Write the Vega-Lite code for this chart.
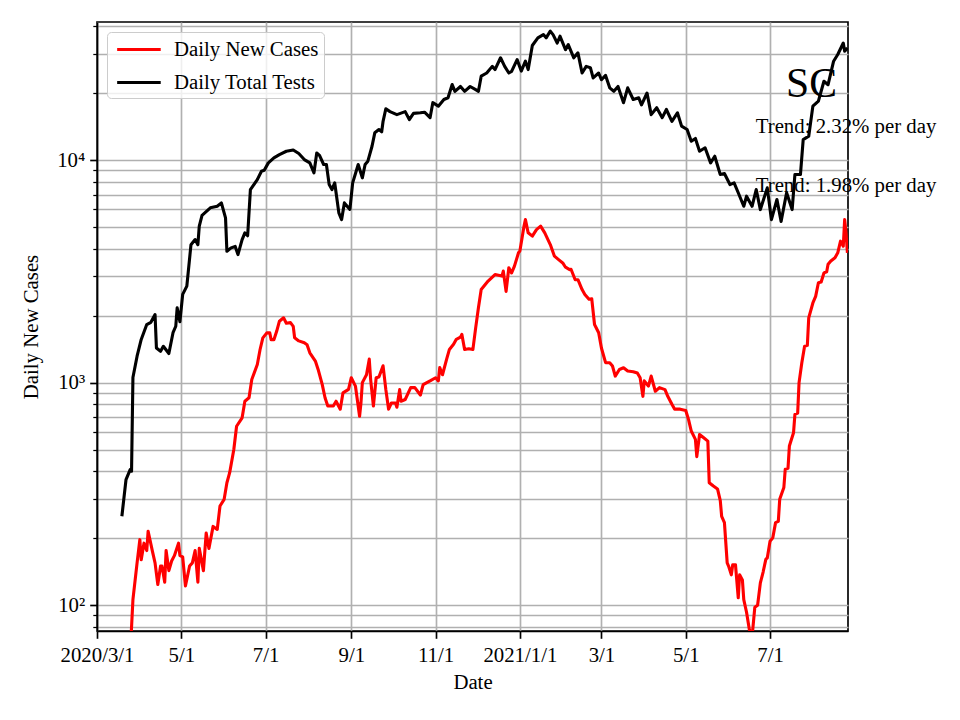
{
  "$schema": "https://vega.github.io/schema/vega-lite/v6.json",
  "width": 751,
  "height": 609,
  "autosize": {"type": "none"},
  "padding": {"left": 97, "top": 22, "right": 112, "bottom": 89},
  "background": "white",
  "config": {
    "font": "Liberation Serif",
    "view": {"stroke": "black", "strokeWidth": 1.67},
    "axis": {
      "labelFont": "Liberation Serif",
      "labelFontSize": 20.8,
      "labelColor": "black",
      "titleFont": "Liberation Serif",
      "titleFontSize": 20.8,
      "titleFontWeight": "normal",
      "titleColor": "black",
      "tickColor": "black",
      "domainColor": "black",
      "domainWidth": 1.67,
      "gridColor": "#b0b0b0",
      "gridWidth": 1.67,
      "tickWidth": 1.67,
      "tickSize": 7.3,
      "labelPadding": 5
    }
  },
  "datasets": {
    "sc": [{"date": "2021-07-31", "value": 19290, "label": "SC"}],
    "trend": [
      {"date": "2021-08-25", "value": 13290, "label": "Trend: 2.32% per day"},
      {"date": "2021-08-25", "value": 7220, "label": "Trend: 1.98% per day"}
    ],
    "cases": [
      {"date": "2020-03-25", "value": 60},
      {"date": "2020-03-27", "value": 106},
      {"date": "2020-03-30", "value": 155},
      {"date": "2020-04-01", "value": 197},
      {"date": "2020-04-02", "value": 160},
      {"date": "2020-04-04", "value": 190},
      {"date": "2020-04-06", "value": 176},
      {"date": "2020-04-07", "value": 215},
      {"date": "2020-04-10", "value": 176},
      {"date": "2020-04-12", "value": 155},
      {"date": "2020-04-14", "value": 124},
      {"date": "2020-04-16", "value": 150},
      {"date": "2020-04-17", "value": 150},
      {"date": "2020-04-19", "value": 127},
      {"date": "2020-04-20", "value": 176},
      {"date": "2020-04-22", "value": 143},
      {"date": "2020-04-24", "value": 158},
      {"date": "2020-04-26", "value": 167},
      {"date": "2020-04-29", "value": 190},
      {"date": "2020-04-30", "value": 167},
      {"date": "2020-05-02", "value": 165},
      {"date": "2020-05-04", "value": 122},
      {"date": "2020-05-07", "value": 150},
      {"date": "2020-05-09", "value": 155},
      {"date": "2020-05-11", "value": 176},
      {"date": "2020-05-13", "value": 127},
      {"date": "2020-05-14", "value": 180},
      {"date": "2020-05-17", "value": 143},
      {"date": "2020-05-19", "value": 211},
      {"date": "2020-05-21", "value": 180},
      {"date": "2020-05-24", "value": 226},
      {"date": "2020-05-27", "value": 219},
      {"date": "2020-05-29", "value": 279},
      {"date": "2020-06-01", "value": 299},
      {"date": "2020-06-03", "value": 355},
      {"date": "2020-06-05", "value": 394},
      {"date": "2020-06-08", "value": 501},
      {"date": "2020-06-10", "value": 637},
      {"date": "2020-06-14", "value": 695},
      {"date": "2020-06-16", "value": 825},
      {"date": "2020-06-19", "value": 855},
      {"date": "2020-06-21", "value": 1033},
      {"date": "2020-06-25", "value": 1206},
      {"date": "2020-06-27", "value": 1409},
      {"date": "2020-06-29", "value": 1589},
      {"date": "2020-07-02", "value": 1674},
      {"date": "2020-07-04", "value": 1674},
      {"date": "2020-07-05", "value": 1560},
      {"date": "2020-07-07", "value": 1560},
      {"date": "2020-07-09", "value": 1700},
      {"date": "2020-07-11", "value": 1888},
      {"date": "2020-07-14", "value": 1955},
      {"date": "2020-07-16", "value": 1850},
      {"date": "2020-07-19", "value": 1860},
      {"date": "2020-07-21", "value": 1790},
      {"date": "2020-07-22", "value": 1590},
      {"date": "2020-07-25", "value": 1540},
      {"date": "2020-07-29", "value": 1510},
      {"date": "2020-07-31", "value": 1480},
      {"date": "2020-08-02", "value": 1362},
      {"date": "2020-08-06", "value": 1250},
      {"date": "2020-08-08", "value": 1146},
      {"date": "2020-08-11", "value": 980},
      {"date": "2020-08-13", "value": 855},
      {"date": "2020-08-15", "value": 785},
      {"date": "2020-08-19", "value": 785},
      {"date": "2020-08-21", "value": 825},
      {"date": "2020-08-24", "value": 760},
      {"date": "2020-08-26", "value": 900},
      {"date": "2020-08-30", "value": 933},
      {"date": "2020-09-01", "value": 1052},
      {"date": "2020-09-04", "value": 965},
      {"date": "2020-09-07", "value": 706},
      {"date": "2020-09-08", "value": 810},
      {"date": "2020-09-09", "value": 1000},
      {"date": "2020-09-12", "value": 1085},
      {"date": "2020-09-14", "value": 1275},
      {"date": "2020-09-15", "value": 1035},
      {"date": "2020-09-17", "value": 785},
      {"date": "2020-09-19", "value": 1052},
      {"date": "2020-09-21", "value": 1060},
      {"date": "2020-09-24", "value": 1190},
      {"date": "2020-09-26", "value": 930},
      {"date": "2020-09-28", "value": 760},
      {"date": "2020-09-30", "value": 810},
      {"date": "2020-10-03", "value": 810},
      {"date": "2020-10-04", "value": 775},
      {"date": "2020-10-06", "value": 930},
      {"date": "2020-10-07", "value": 825},
      {"date": "2020-10-10", "value": 840},
      {"date": "2020-10-14", "value": 950},
      {"date": "2020-10-17", "value": 950},
      {"date": "2020-10-21", "value": 880},
      {"date": "2020-10-23", "value": 980},
      {"date": "2020-10-28", "value": 1018},
      {"date": "2020-11-01", "value": 1052},
      {"date": "2020-11-03", "value": 1018},
      {"date": "2020-11-04", "value": 1168},
      {"date": "2020-11-06", "value": 1085},
      {"date": "2020-11-09", "value": 1275},
      {"date": "2020-11-11", "value": 1410},
      {"date": "2020-11-14", "value": 1486},
      {"date": "2020-11-16", "value": 1565},
      {"date": "2020-11-19", "value": 1600},
      {"date": "2020-11-20", "value": 1647},
      {"date": "2020-11-22", "value": 1410},
      {"date": "2020-11-25", "value": 1420},
      {"date": "2020-11-28", "value": 1410},
      {"date": "2020-11-30", "value": 1762},
      {"date": "2020-12-02", "value": 2168},
      {"date": "2020-12-04", "value": 2620},
      {"date": "2020-12-09", "value": 2860},
      {"date": "2020-12-14", "value": 3060},
      {"date": "2020-12-19", "value": 3010},
      {"date": "2020-12-20", "value": 3170},
      {"date": "2020-12-22", "value": 2570},
      {"date": "2020-12-24", "value": 3280},
      {"date": "2020-12-26", "value": 3110},
      {"date": "2020-12-28", "value": 3330},
      {"date": "2020-12-31", "value": 3830},
      {"date": "2021-01-01", "value": 3900},
      {"date": "2021-01-04", "value": 5050},
      {"date": "2021-01-05", "value": 5400},
      {"date": "2021-01-07", "value": 4710},
      {"date": "2021-01-10", "value": 4550},
      {"date": "2021-01-13", "value": 4870},
      {"date": "2021-01-16", "value": 5050},
      {"date": "2021-01-19", "value": 4710},
      {"date": "2021-01-23", "value": 4170},
      {"date": "2021-01-26", "value": 3700},
      {"date": "2021-01-29", "value": 3570},
      {"date": "2021-02-01", "value": 3450},
      {"date": "2021-02-03", "value": 3300},
      {"date": "2021-02-06", "value": 3220},
      {"date": "2021-02-07", "value": 3230},
      {"date": "2021-02-10", "value": 2900},
      {"date": "2021-02-12", "value": 2900},
      {"date": "2021-02-15", "value": 2620},
      {"date": "2021-02-17", "value": 2490},
      {"date": "2021-02-20", "value": 2370},
      {"date": "2021-02-22", "value": 2380},
      {"date": "2021-02-24", "value": 1825},
      {"date": "2021-02-27", "value": 1676},
      {"date": "2021-03-01", "value": 1431},
      {"date": "2021-03-04", "value": 1229},
      {"date": "2021-03-07", "value": 1229},
      {"date": "2021-03-09", "value": 1188},
      {"date": "2021-03-11", "value": 1070},
      {"date": "2021-03-14", "value": 1146},
      {"date": "2021-03-17", "value": 1166},
      {"date": "2021-03-20", "value": 1127},
      {"date": "2021-03-24", "value": 1120},
      {"date": "2021-03-27", "value": 1105},
      {"date": "2021-03-29", "value": 1052},
      {"date": "2021-03-31", "value": 868},
      {"date": "2021-04-01", "value": 1018},
      {"date": "2021-04-04", "value": 965},
      {"date": "2021-04-06", "value": 1070},
      {"date": "2021-04-09", "value": 915},
      {"date": "2021-04-12", "value": 950},
      {"date": "2021-04-16", "value": 930},
      {"date": "2021-04-18", "value": 868},
      {"date": "2021-04-21", "value": 800},
      {"date": "2021-04-23", "value": 760},
      {"date": "2021-04-27", "value": 760},
      {"date": "2021-05-01", "value": 750},
      {"date": "2021-05-03", "value": 684},
      {"date": "2021-05-05", "value": 606},
      {"date": "2021-05-08", "value": 556},
      {"date": "2021-05-09", "value": 465},
      {"date": "2021-05-11", "value": 585},
      {"date": "2021-05-14", "value": 565},
      {"date": "2021-05-17", "value": 546},
      {"date": "2021-05-18", "value": 355},
      {"date": "2021-05-21", "value": 343},
      {"date": "2021-05-24", "value": 333},
      {"date": "2021-05-26", "value": 295},
      {"date": "2021-05-27", "value": 251},
      {"date": "2021-05-29", "value": 235},
      {"date": "2021-05-31", "value": 155},
      {"date": "2021-06-01", "value": 150},
      {"date": "2021-06-03", "value": 137},
      {"date": "2021-06-04", "value": 152},
      {"date": "2021-06-06", "value": 152},
      {"date": "2021-06-08", "value": 108},
      {"date": "2021-06-09", "value": 137},
      {"date": "2021-06-11", "value": 130},
      {"date": "2021-06-12", "value": 106},
      {"date": "2021-06-14", "value": 93},
      {"date": "2021-06-16", "value": 78},
      {"date": "2021-06-18", "value": 72},
      {"date": "2021-06-20", "value": 98},
      {"date": "2021-06-22", "value": 100},
      {"date": "2021-06-24", "value": 126},
      {"date": "2021-06-26", "value": 141},
      {"date": "2021-06-28", "value": 161},
      {"date": "2021-06-29", "value": 163},
      {"date": "2021-07-01", "value": 194},
      {"date": "2021-07-03", "value": 201},
      {"date": "2021-07-05", "value": 235},
      {"date": "2021-07-07", "value": 238},
      {"date": "2021-07-08", "value": 299},
      {"date": "2021-07-11", "value": 338},
      {"date": "2021-07-12", "value": 408},
      {"date": "2021-07-14", "value": 412},
      {"date": "2021-07-15", "value": 519},
      {"date": "2021-07-18", "value": 595},
      {"date": "2021-07-19", "value": 720},
      {"date": "2021-07-21", "value": 730},
      {"date": "2021-07-22", "value": 1000},
      {"date": "2021-07-24", "value": 1229},
      {"date": "2021-07-26", "value": 1456},
      {"date": "2021-07-28", "value": 1470},
      {"date": "2021-07-29", "value": 1955},
      {"date": "2021-08-01", "value": 2280},
      {"date": "2021-08-03", "value": 2440},
      {"date": "2021-08-05", "value": 2810},
      {"date": "2021-08-07", "value": 2830},
      {"date": "2021-08-09", "value": 3110},
      {"date": "2021-08-11", "value": 3150},
      {"date": "2021-08-12", "value": 3400},
      {"date": "2021-08-14", "value": 3520},
      {"date": "2021-08-17", "value": 3640},
      {"date": "2021-08-19", "value": 3830},
      {"date": "2021-08-21", "value": 4320},
      {"date": "2021-08-23", "value": 4100},
      {"date": "2021-08-24", "value": 5400},
      {"date": "2021-08-25", "value": 4710},
      {"date": "2021-08-26", "value": 3830}
    ],
    "tests": [
      {"date": "2020-03-19", "value": 251},
      {"date": "2020-03-22", "value": 367},
      {"date": "2020-03-25", "value": 407},
      {"date": "2020-03-26", "value": 400},
      {"date": "2020-03-27", "value": 1054},
      {"date": "2020-03-30", "value": 1314},
      {"date": "2020-04-02", "value": 1563},
      {"date": "2020-04-06", "value": 1823},
      {"date": "2020-04-09", "value": 1867},
      {"date": "2020-04-12", "value": 2023},
      {"date": "2020-04-13", "value": 1432},
      {"date": "2020-04-16", "value": 1383},
      {"date": "2020-04-18", "value": 1456},
      {"date": "2020-04-22", "value": 1351},
      {"date": "2020-04-25", "value": 1676},
      {"date": "2020-04-27", "value": 1792},
      {"date": "2020-04-28", "value": 2166},
      {"date": "2020-04-30", "value": 1880},
      {"date": "2020-05-02", "value": 2491},
      {"date": "2020-05-05", "value": 2713},
      {"date": "2020-05-08", "value": 4166},
      {"date": "2020-05-11", "value": 4394},
      {"date": "2020-05-13", "value": 4166},
      {"date": "2020-05-14", "value": 5050},
      {"date": "2020-05-16", "value": 5640},
      {"date": "2020-05-22", "value": 6100},
      {"date": "2020-05-27", "value": 6200},
      {"date": "2020-05-30", "value": 6420},
      {"date": "2020-06-02", "value": 5500},
      {"date": "2020-06-03", "value": 3890},
      {"date": "2020-06-06", "value": 4030},
      {"date": "2020-06-09", "value": 4090},
      {"date": "2020-06-11", "value": 3760},
      {"date": "2020-06-14", "value": 4390},
      {"date": "2020-06-16", "value": 4710},
      {"date": "2020-06-18", "value": 4570},
      {"date": "2020-06-20", "value": 7360},
      {"date": "2020-06-25", "value": 8170},
      {"date": "2020-06-28", "value": 8910},
      {"date": "2020-06-30", "value": 9000},
      {"date": "2020-07-03", "value": 9710},
      {"date": "2020-07-07", "value": 10230},
      {"date": "2020-07-11", "value": 10580},
      {"date": "2020-07-16", "value": 10950},
      {"date": "2020-07-21", "value": 11100},
      {"date": "2020-07-25", "value": 10700},
      {"date": "2020-07-29", "value": 10050},
      {"date": "2020-08-02", "value": 9710},
      {"date": "2020-08-05", "value": 8760},
      {"date": "2020-08-07", "value": 10760},
      {"date": "2020-08-09", "value": 10500},
      {"date": "2020-08-12", "value": 9550},
      {"date": "2020-08-14", "value": 9550},
      {"date": "2020-08-16", "value": 7760},
      {"date": "2020-08-18", "value": 7370},
      {"date": "2020-08-20", "value": 7900},
      {"date": "2020-08-23", "value": 5790},
      {"date": "2020-08-25", "value": 5400},
      {"date": "2020-08-27", "value": 6420},
      {"date": "2020-08-31", "value": 6000},
      {"date": "2020-09-02", "value": 7900},
      {"date": "2020-09-06", "value": 9550},
      {"date": "2020-09-09", "value": 8320},
      {"date": "2020-09-11", "value": 9550},
      {"date": "2020-09-13", "value": 9880},
      {"date": "2020-09-16", "value": 11530},
      {"date": "2020-09-18", "value": 13250},
      {"date": "2020-09-21", "value": 13710},
      {"date": "2020-09-23", "value": 13400},
      {"date": "2020-09-24", "value": 14930},
      {"date": "2020-09-26", "value": 17000},
      {"date": "2020-09-29", "value": 16500},
      {"date": "2020-10-04", "value": 16000},
      {"date": "2020-10-10", "value": 16500},
      {"date": "2020-10-13", "value": 15200},
      {"date": "2020-10-16", "value": 16200},
      {"date": "2020-10-21", "value": 16300},
      {"date": "2020-10-24", "value": 16400},
      {"date": "2020-10-28", "value": 15500},
      {"date": "2020-10-30", "value": 18100},
      {"date": "2020-11-03", "value": 17460},
      {"date": "2020-11-07", "value": 18700},
      {"date": "2020-11-10", "value": 19050},
      {"date": "2020-11-13", "value": 21830},
      {"date": "2020-11-15", "value": 20360},
      {"date": "2020-11-19", "value": 21400},
      {"date": "2020-11-22", "value": 20360},
      {"date": "2020-11-26", "value": 21400},
      {"date": "2020-11-30", "value": 20700},
      {"date": "2020-12-02", "value": 20360},
      {"date": "2020-12-04", "value": 23800},
      {"date": "2020-12-08", "value": 24600},
      {"date": "2020-12-12", "value": 26350},
      {"date": "2020-12-14", "value": 25500},
      {"date": "2020-12-18", "value": 28800},
      {"date": "2020-12-21", "value": 26350},
      {"date": "2020-12-24", "value": 24600},
      {"date": "2020-12-26", "value": 25000},
      {"date": "2020-12-30", "value": 28250},
      {"date": "2021-01-02", "value": 25100},
      {"date": "2021-01-05", "value": 27800},
      {"date": "2021-01-07", "value": 25500},
      {"date": "2021-01-10", "value": 32700},
      {"date": "2021-01-14", "value": 35400},
      {"date": "2021-01-18", "value": 36600},
      {"date": "2021-01-20", "value": 35400},
      {"date": "2021-01-23", "value": 37950},
      {"date": "2021-01-25", "value": 36600},
      {"date": "2021-01-28", "value": 33550},
      {"date": "2021-01-30", "value": 36000},
      {"date": "2021-02-03", "value": 31330},
      {"date": "2021-02-05", "value": 33000},
      {"date": "2021-02-09", "value": 28800},
      {"date": "2021-02-12", "value": 30300},
      {"date": "2021-02-15", "value": 24600},
      {"date": "2021-02-18", "value": 26350},
      {"date": "2021-02-21", "value": 26000},
      {"date": "2021-02-23", "value": 23380},
      {"date": "2021-02-27", "value": 24600},
      {"date": "2021-03-01", "value": 22950},
      {"date": "2021-03-04", "value": 24000},
      {"date": "2021-03-07", "value": 21100},
      {"date": "2021-03-10", "value": 20360},
      {"date": "2021-03-13", "value": 21400},
      {"date": "2021-03-17", "value": 18100},
      {"date": "2021-03-20", "value": 21100},
      {"date": "2021-03-24", "value": 18700},
      {"date": "2021-03-28", "value": 19050},
      {"date": "2021-03-30", "value": 17700},
      {"date": "2021-04-03", "value": 20000},
      {"date": "2021-04-06", "value": 16000},
      {"date": "2021-04-10", "value": 17180},
      {"date": "2021-04-14", "value": 15500},
      {"date": "2021-04-17", "value": 16870},
      {"date": "2021-04-21", "value": 14930},
      {"date": "2021-04-25", "value": 16300},
      {"date": "2021-04-28", "value": 14200},
      {"date": "2021-05-02", "value": 13710},
      {"date": "2021-05-05", "value": 12150},
      {"date": "2021-05-08", "value": 12500},
      {"date": "2021-05-11", "value": 10950},
      {"date": "2021-05-15", "value": 11350},
      {"date": "2021-05-19", "value": 9710},
      {"date": "2021-05-22", "value": 10400},
      {"date": "2021-05-26", "value": 8610},
      {"date": "2021-05-29", "value": 8700},
      {"date": "2021-06-02", "value": 7760},
      {"date": "2021-06-05", "value": 7900},
      {"date": "2021-06-08", "value": 7130},
      {"date": "2021-06-12", "value": 6200},
      {"date": "2021-06-14", "value": 6880},
      {"date": "2021-06-18", "value": 6200},
      {"date": "2021-06-21", "value": 7370},
      {"date": "2021-06-24", "value": 5990},
      {"date": "2021-06-29", "value": 7500},
      {"date": "2021-07-02", "value": 5400},
      {"date": "2021-07-06", "value": 6650},
      {"date": "2021-07-09", "value": 5300},
      {"date": "2021-07-13", "value": 7130},
      {"date": "2021-07-17", "value": 5990},
      {"date": "2021-07-19", "value": 8610},
      {"date": "2021-07-23", "value": 8610},
      {"date": "2021-07-25", "value": 12360},
      {"date": "2021-07-29", "value": 12800},
      {"date": "2021-08-01", "value": 17460},
      {"date": "2021-08-05", "value": 18400},
      {"date": "2021-08-09", "value": 22600},
      {"date": "2021-08-12", "value": 21800},
      {"date": "2021-08-16", "value": 27800},
      {"date": "2021-08-19", "value": 29800},
      {"date": "2021-08-23", "value": 33550},
      {"date": "2021-08-24", "value": 30800},
      {"date": "2021-08-26", "value": 31900}
    ]
  },
  "encoding": {
    "x": {
      "field": "date",
      "type": "temporal",
      "title": "Date",
      "scale": {
        "type": "utc",
        "nice": false,
        "domain": [
          {"year": 2020, "month": 3, "date": 1, "utc": true},
          {"year": 2021, "month": 8, "date": 26, "hours": 10, "utc": true}
        ]
      },
      "axis": {
        "values": [
          {"year": 2020, "month": 3, "date": 1, "utc": true},
          {"year": 2020, "month": 5, "date": 1, "utc": true},
          {"year": 2020, "month": 7, "date": 1, "utc": true},
          {"year": 2020, "month": 9, "date": 1, "utc": true},
          {"year": 2020, "month": 11, "date": 1, "utc": true},
          {"year": 2021, "month": 1, "date": 1, "utc": true},
          {"year": 2021, "month": 3, "date": 1, "utc": true},
          {"year": 2021, "month": 5, "date": 1, "utc": true},
          {"year": 2021, "month": 7, "date": 1, "utc": true}
        ],
        "labelExpr": "(utcmonth(datum.value) == 0 || (utcyear(datum.value) == 2020 && utcmonth(datum.value) == 2)) ? utcFormat(datum.value, '%Y/%-m/%-d') : utcFormat(datum.value, '%-m/%-d')",
        "grid": true,
        "labelFlush": false,
        "labelOverlap": false,
        "labelBound": false,
        "labelPadding": 7,
        "titlePadding": 7
      }
    },
    "y": {
      "field": "value",
      "type": "quantitative",
      "title": "Daily New Cases",
      "scale": {"type": "log", "domain": [76.6, 41700], "nice": false},
      "axis": {
        "values": [80, 90, 100, 200, 300, 400, 500, 600, 700, 800, 900, 1000, 2000, 3000, 4000, 5000, 6000, 7000, 8000, 9000, 10000, 20000, 30000, 40000],
        "labelExpr": "datum.value == 100 ? '10²' : datum.value == 1000 ? '10³' : datum.value == 10000 ? '10⁴' : ''",
        "tickSize": {"condition": {"test": "datum.value == 100 || datum.value == 1000 || datum.value == 10000", "value": 7.3}, "value": 4.2},
        "tickWidth": {"condition": {"test": "datum.value == 100 || datum.value == 1000 || datum.value == 10000", "value": 1.67}, "value": 1.25},
        "grid": true,
        "labelFlush": false,
        "labelOverlap": false,
        "labelBound": false,
        "titlePadding": 15
      }
    }
  },
  "layer": [
    {
      "data": {"name": "sc"},
      "mark": {"type": "text", "font": "Liberation Serif", "fontSize": 41.7, "color": "black", "align": "center", "baseline": "alphabetic"},
      "encoding": {"text": {"field": "label"}}
    },
    {
      "data": {"name": "trend"},
      "mark": {"type": "text", "font": "Liberation Serif", "fontSize": 20.8, "color": "black", "align": "center", "baseline": "alphabetic"},
      "encoding": {"text": {"field": "label"}}
    },
    {
      "data": {"name": "cases"},
      "mark": {"type": "line", "strokeWidth": 3.1, "clip": true, "strokeJoin": "round"},
      "encoding": {
        "color": {
          "datum": "Daily New Cases",
          "type": "nominal",
          "scale": {"domain": ["Daily New Cases", "Daily Total Tests"], "range": ["#ff0000", "#000000"]},
          "legend": {
            "title": null,
            "orient": "top-left",
            "offset": 10.4,
            "symbolType": "M-0.7,0L3.45,0",
            "symbolSize": 441,
            "symbolStrokeWidth": 3.1,
            "labelFont": "Liberation Serif",
            "labelFontSize": 20.8,
            "labelColor": "black",
            "labelOffset": 37,
            "labelLimit": 400,
            "padding": 5,
            "rowPadding": 10,
            "strokeColor": "#cccccc",
            "fillColor": "rgba(255,255,255,0.8)",
            "cornerRadius": 4
          }
        }
      }
    },
    {
      "data": {"name": "tests"},
      "mark": {"type": "line", "strokeWidth": 3.1, "clip": true, "strokeJoin": "round"},
      "encoding": {
        "color": {"datum": "Daily Total Tests", "type": "nominal"}
      }
    }
  ]
}
